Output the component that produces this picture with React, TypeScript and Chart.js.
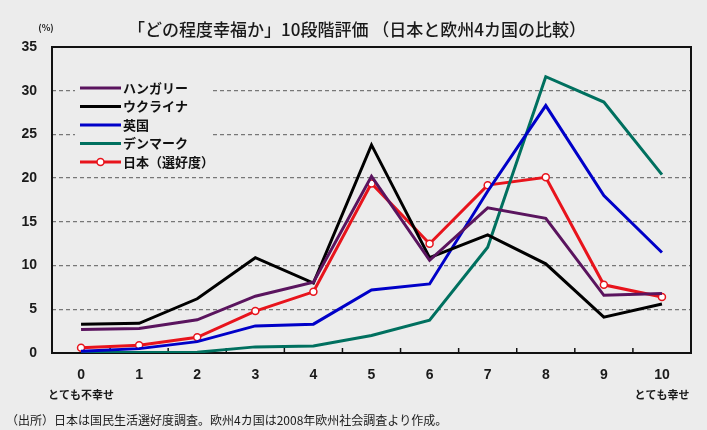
import { useEffect, useRef } from 'react';
import { Chart, registerables } from 'chart.js';

Chart.register(...registerables);

const categories = ['0', '1', '2', '3', '4', '5', '6', '7', '8', '9', '10'];
const hungary = [2.7, 2.8, 3.8, 6.5, 8.1, 20.2, 10.6, 16.6, 15.4, 6.6, 6.8];
const ukraine = [3.3, 3.4, 6.2, 10.9, 8.0, 23.8, 10.9, 13.5, 10.2, 4.1, 5.6];
const uk = [0.2, 0.5, 1.3, 3.1, 3.3, 7.2, 7.9, 18.5, 28.3, 18.0, 11.5];
const denmark = [0.05, 0.05, 0.1, 0.7, 0.8, 2.0, 3.75, 12.1, 31.6, 28.7, 20.4];
const japan = [0.6, 0.9, 1.8, 4.8, 7.0, 19.4, 12.5, 19.2, 20.1, 7.8, 6.4];

const seriesLabels = ['ハンガリー', 'ウクライナ', '英国', 'デンマーク', '日本（選好度）'];
const yMax = 35;
const yStep = 5;
const lowLabel = 'とても不幸せ';
const highLabel = 'とても幸せ';
const titleText = '「どの程度幸福か」10段階評価 （日本と欧州4カ国の比較）';
const unitText = '(%)';
const sourceText = '（出所）日本は国民生活選好度調査。欧州4カ国は2008年欧州社会調査より作成。';

const BG = '#ececec';
const COLORS = ['#5a145e', '#000000', '#0000c8', '#00705f', '#e8141c'];
const JP = '"Noto Sans CJK JP", "Noto Sans", sans-serif';
const NUM = '"Liberation Sans Narrow", "Liberation Sans", Arial, sans-serif';

export default function App() {
  const ref = useRef<HTMLCanvasElement>(null);

  useEffect(() => {
    document.body.style.margin = '0';
    document.body.style.background = BG;
    const canvas = ref.current!;

    const decor = {
      id: 'decor',
      beforeDraw(chart: any) {
        const { ctx, width, height } = chart;
        ctx.save();
        ctx.fillStyle = BG;
        ctx.fillRect(0, 0, width, height);
        ctx.restore();
      },
      beforeDatasetsDraw(chart: any) {
        const { ctx, chartArea: a, scales } = chart;
        ctx.save();
        // legend background box hiding grid
        ctx.fillStyle = BG;
        ctx.fillRect(75, 77, 135, 94);
        // frame
        ctx.strokeStyle = '#111';
        ctx.lineWidth = 2;
        ctx.strokeRect(a.left, a.top, a.right - a.left, a.bottom - a.top);
        // inner tick marks between categories
        const xs = scales.x;
        ctx.lineWidth = 1.5;
        for (let i = 0; i < categories.length - 1; i++) {
          const x = (xs.getPixelForValue(i) + xs.getPixelForValue(i + 1)) / 2;
          ctx.beginPath();
          ctx.moveTo(x, a.bottom);
          ctx.lineTo(x, a.bottom - 5);
          ctx.stroke();
        }
        ctx.restore();
      },
      afterDraw(chart: any) {
        const { ctx, scales } = chart;
        ctx.save();
        // title
        ctx.fillStyle = '#1a1a1a';
        ctx.textBaseline = 'middle';
        ctx.textAlign = 'center';
        ctx.font = `500 17px ${JP}`;
        ctx.fillText(titleText, 357, 30);
        // unit
        ctx.font = `bold 9px ${JP}`;
        ctx.fillText(unitText, 46, 28);
        // sub labels
        ctx.font = `bold 11px ${JP}`;
        ctx.fillText(lowLabel, scales.x.getPixelForValue(0), 395);
        ctx.fillText(highLabel, scales.x.getPixelForValue(categories.length - 1), 395);
        // source
        ctx.textAlign = 'left';
        ctx.font = `12px ${JP}`;
        ctx.fillText(sourceText, 6, 420);
        // legend
        chart.data.datasets.forEach((ds: any, i: number) => {
          const y = 88 + i * 18.5;
          ctx.strokeStyle = ds.borderColor;
          ctx.lineWidth = 3;
          ctx.beginPath();
          ctx.moveTo(80, y);
          ctx.lineTo(121, y);
          ctx.stroke();
          if (ds.pointRadius > 0) {
            ctx.beginPath();
            ctx.arc(100.5, y, 3.5, 0, Math.PI * 2);
            ctx.fillStyle = '#ffffff';
            ctx.fill();
            ctx.lineWidth = 1.5;
            ctx.stroke();
          }
          ctx.fillStyle = '#111';
          ctx.font = `bold 13px ${JP}`;
          ctx.textAlign = 'left';
          ctx.fillText(ds.label, 123, y);
        });
        ctx.restore();
      },
    };

    const seriesData = [hungary, ukraine, uk, denmark, japan];
    const chart = new Chart(canvas, {
      type: 'line',
      data: {
        labels: categories,
        datasets: seriesData.map((d, i) => ({
          label: seriesLabels[i],
          data: d,
          borderColor: COLORS[i],
          backgroundColor: i === 4 ? '#ffffff' : COLORS[i],
          borderWidth: 3,
          pointRadius: i === 4 ? 3.5 : 0,
          pointBorderWidth: 1.5,
          pointBorderColor: COLORS[i],
          pointBackgroundColor: '#ffffff',
          tension: 0,
          fill: false,
        })),
      },
      options: {
        responsive: false,
        animation: false,
        layout: { padding: { left: 0, top: 47, right: 16, bottom: 0 } },
        plugins: {
          legend: { display: false },
          title: { display: false },
          tooltip: { enabled: false },
        },
        scales: {
          x: {
            type: 'category',
            offset: true,
            grid: { display: false, drawTicks: false },
            border: { display: false },
            ticks: {
              color: '#1a1a1a',
              font: { family: NUM, size: 14, weight: 'bold' },
              padding: 14,
              maxRotation: 0,
              autoSkip: false,
            },
            afterFit(scale: any) {
              scale.height = 77;
            },
          },
          y: {
            min: 0,
            max: yMax,
            border: { display: false, dash: [4, 3] },
            grid: {
              drawTicks: false,
              color: (c: any) =>
                c.tick && (c.tick.value === 0 || c.tick.value === yMax) ? 'rgba(0,0,0,0)' : '#777777',
              lineWidth: 1.3,
            },
            ticks: {
              stepSize: yStep,
              color: '#1a1a1a',
              font: { family: NUM, size: 14, weight: 'bold' },
              padding: 15,
            },
            afterFit(scale: any) {
              scale.width = 52;
            },
          },
        },
      },
      plugins: [decor],
    });

    return () => chart.destroy();
  }, []);

  return (
    <canvas
      ref={ref}
      width={707}
      height={430}
      style={{ display: 'block', width: 707, height: 430 }}
    />
  );
}
